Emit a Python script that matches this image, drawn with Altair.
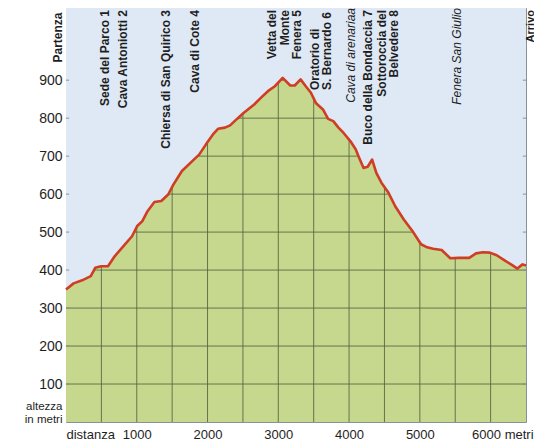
import altair as alt
import pandas as pd

# Elevation profile (distance in metres, altitude in metres)
dist = [0, 107, 228, 350, 413, 496, 593, 690, 812, 933, 1006, 1079, 1152, 1249, 1346,
        1444, 1517, 1638, 1784, 1881, 1978, 2076, 2148, 2246, 2319, 2416, 2513, 2659,
        2756, 2853, 2951, 3062, 3169, 3232, 3315, 3388, 3461, 3534, 3631, 3704, 3777,
        3850, 3923, 4020, 4093, 4142, 4205, 4263, 4326, 4385, 4457, 4555, 4652, 4773,
        4895, 5017, 5090, 5187, 5308, 5430, 5551, 5697, 5794, 5891, 5989, 6086, 6208,
        6305, 6378, 6451, 6500]
elev = [349, 365, 373, 384, 406, 410, 410, 437, 463, 489, 516, 529, 555, 579, 582,
        599, 625, 661, 687, 704, 731, 757, 772, 775, 781, 798, 814, 836,
        854, 871, 884, 906, 886, 886, 902, 884, 867, 839, 823, 798, 792,
        775, 761, 739, 718, 696, 669, 672, 691, 656, 630, 604, 568, 533,
        503, 468, 461, 456, 453, 431, 432, 432, 444, 447, 446, 439, 424,
        413, 404, 415, 412]

# grid / tick values
grid_x = [500, 1000, 1500, 2000, 2500, 3000, 3500, 4000, 4500, 5000, 5500, 6000]
grid_y = [100, 200, 300, 400, 500, 600, 700, 800, 900, 1000]
x_ticks = [0, 1000, 2000, 3000, 4000, 5000, 6000]
y_ticks = [0, 100, 200, 300, 400, 500, 600, 700, 800, 900]

# place names (top of chart); distance is where the first text line sits
top_names = ["Sede del Parco 1", "Cava Antoniotti 2", "Chiersa di San Quirico 3",
             "Cava di Cote 4", "Vetta del\nMonte\nFenera 5", "Buco della Bondaccia 7",
             "Sottoroccia del\nBelvedere 8"]
top_dist = [551, 805, 1413, 1823, 2911, 4267, 4465]
low_names = ["Oratorio di\nS. Bernardo 6"]
low_dist = [3518]
ital_names = ["Cava di arenariaa", "Fenera San Giulio"]
ital_dist = [4027, 5525]
end_name = ["Arrivo"]
end_dist = [6500]

X_MAX = 6500
Y_MAX = 1090
FONT = "Liberation Sans, Arial, Helvetica, sans-serif"
SKY = "#dee9f5"
GREEN = "#c6d88d"
RED = "#cf3d24"
GRID = "#56623f"
INK = "#1e1e1e"
BORDER = "#8a9098"

prof = pd.DataFrame({"dist": dist, "elev": elev})
xs = alt.Scale(domain=[0, X_MAX], nice=False, zero=False)
ys = alt.Scale(domain=[0, Y_MAX], nice=False)

x_axis = alt.Axis(
    values=x_ticks, format="d", grid=False, ticks=False, domain=False, title=None,
    labelExpr="datum.value == 0 ? 'distanza' : (datum.value == 6000 ? '6000 metri' : datum.label)",
    labelFont=FONT, labelFontSize=13, labelColor=INK, labelPadding=6,
    labelAlign={"condition": {"test": "datum.value == 0 || datum.value == 6000", "value": "left"}, "value": "center"},
    labelOffset={"condition": {"test": "datum.value == 6000", "value": -19}, "value": 0},
    labelFlush=False, labelOverlap=False, zindex=1,
)
y_axis = alt.Axis(
    values=y_ticks, format="d", grid=False, ticks=False, domain=False,
    labelExpr="datum.value == 0 ? ['altezza', 'in metri'] : datum.label",
    labelFont=FONT, labelColor=INK, labelPadding=4, labelLineHeight=12.5,
    labelOverlap=False,
    labelFontSize={"condition": {"test": "datum.value == 0", "value": 11.5}, "value": 14},
    labelBaseline={"condition": {"test": "datum.value == 0", "value": "alphabetic"}, "value": "middle"},
    labelOffset={"condition": {"test": "datum.value == 0", "value": -12.5}, "value": 0},
    title="Partenza", titleAngle=270, titleX=-9, titleY=4, titleAlign="right",
    titleBaseline="middle", titleFont=FONT, titleFontSize=12, titleFontWeight="bold",
    titleColor=INK, zindex=1,
)

ground = alt.Chart(prof).mark_area(color=GREEN, opacity=1).encode(
    x=alt.X("dist:Q", scale=xs, axis=x_axis),
    y=alt.Y("elev:Q", scale=ys, axis=y_axis),
)

vgrid = alt.Chart(pd.DataFrame({"g": grid_x})).mark_rule(color=GRID, strokeWidth=1, opacity=0.85).encode(
    x=alt.X("g:Q", scale=xs), y=alt.datum(0), y2=alt.datum(Y_MAX)
)
hgrid = alt.Chart(pd.DataFrame({"g": grid_y})).mark_rule(color=GRID, strokeWidth=1, opacity=0.85).encode(
    y=alt.Y("g:Q", scale=ys), x=alt.datum(0), x2=alt.datum(X_MAX)
)

sky = alt.Chart(prof).mark_area(color=SKY, opacity=1).encode(
    x=alt.X("dist:Q", scale=xs), y=alt.Y("elev:Q", scale=ys), y2=alt.datum(Y_MAX)
)

line = alt.Chart(prof).mark_line(color=RED, strokeWidth=2.6, strokeJoin="round").encode(
    x=alt.X("dist:Q", scale=xs), y=alt.Y("elev:Q", scale=ys)
)

rtick = alt.Chart(pd.DataFrame({"g": grid_y[:-1]})).mark_rule(color=BORDER, strokeWidth=1).encode(
    y=alt.Y("g:Q", scale=ys), x=alt.datum(X_MAX - 45), x2=alt.datum(X_MAX)
)
ltick = alt.Chart(pd.DataFrame({"g": grid_y[:-1]})).mark_rule(color=BORDER, strokeWidth=1).encode(
    y=alt.Y("g:Q", scale=ys), x=alt.datum(0), x2=alt.datum(45)
)

top_lbl = alt.Chart(pd.DataFrame({"t": top_names, "d": top_dist})).mark_text(
    angle=270, align="right", baseline="middle", font=FONT, fontSize=12,
    fontWeight="bold", color=INK, lineBreak="\n", lineHeight=12.5,
).encode(x=alt.X("d:Q", scale=xs), y=alt.value(2), text="t:N")

low_lbl = alt.Chart(pd.DataFrame({"t": low_names, "d": low_dist})).mark_text(
    angle=270, align="left", baseline="middle", font=FONT, fontSize=12,
    fontWeight="bold", color=INK, lineBreak="\n", lineHeight=12.5,
).encode(x=alt.X("d:Q", scale=xs), y=alt.value(82), text="t:N")

ital_lbl = alt.Chart(pd.DataFrame({"t": ital_names, "d": ital_dist})).mark_text(
    angle=270, align="right", baseline="middle", font=FONT, fontSize=12,
    fontStyle="italic", color=INK,
).encode(x=alt.X("d:Q", scale=xs), y=alt.value(0), text="t:N")

end_lbl = alt.Chart(pd.DataFrame({"t": end_name, "d": end_dist})).mark_text(
    angle=270, align="right", baseline="middle", font=FONT, fontSize=11,
    fontWeight="bold", color=INK, dy=4.5,
).encode(x=alt.X("d:Q", scale=xs), y=alt.value(2), text="t:N")

chart = alt.layer(
    ground, vgrid, hgrid, sky, line, rtick, ltick, top_lbl, low_lbl, ital_lbl, end_lbl
).properties(
    width=460, height=414,
    autosize=alt.AutoSizeParams(type="none"),
    padding={"left": 58, "top": 0, "right": 8, "bottom": 20},
    background="#ffffff",
).configure_view(
    stroke=BORDER, strokeWidth=1, fill=SKY
)

chart.save("out.html", embed_options={"renderer": "svg", "actions": False})
